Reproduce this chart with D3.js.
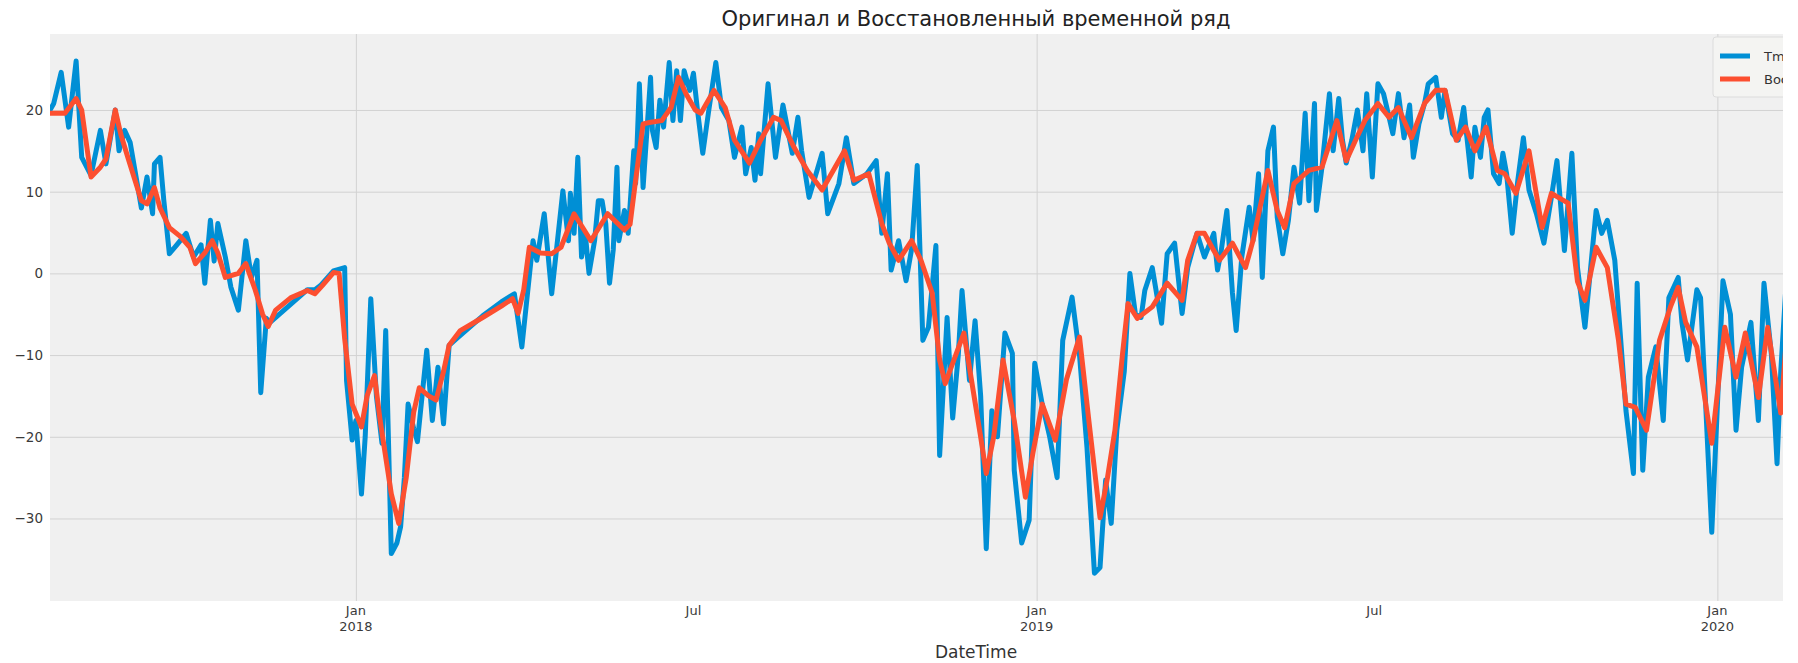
<!DOCTYPE html>
<html>
<head>
<meta charset="utf-8">
<script src="https://cdn.jsdelivr.net/npm/d3@7"></script>
<style>
  body { margin: 0; background: #ffffff; }
  svg { display: block; }
  text { font-family: "DejaVu Sans", "Noto Sans", sans-serif; }
</style>
</head>
<body>
<svg id="chart" width="1798" height="663"></svg>
<script>
// Day offsets are counted from 2018-01-01.

// Observed daily mean temperature (Tmean)
const tmeanDays = [
  -164, -162, -158, -154, -150, -147, -142, -137, -134, -129,
  -127, -124, -121, -115, -112, -109, -108, -105, -103, -100,
  -96, -91, -87, -83, -81, -78, -76, -74, -70, -67,
  -63, -59, -56, -53, -51, -48, -46, -35, -26, -22,
  -19, -12, -6, -5, -2, 0, 3, 5, 8, 11,
  14, 16, 19, 22, 24, 26, 28, 31, 33, 38,
  41, 44, 47, 50, 54, 68, 78, 85, 89, 95,
  97, 101, 105,
  111, 114, 115, 117, 119, 121, 123, 125, 128, 130,
  132, 134, 136, 138, 140, 141, 144, 146, 149, 150,
  152, 154, 158, 159, 161, 163, 165, 168, 170, 172,
  174, 176, 179, 181, 183, 186, 189, 193, 196, 200,
  203, 207, 209, 212, 214, 216, 217, 221, 225, 229,
  234, 237, 239, 243, 250, 253, 259, 263, 267, 274,
  279, 282, 285, 287, 291, 295, 298, 301, 304, 307,
  311,
  313, 317, 320, 323, 325, 329, 332, 335, 338, 341,
  344, 348, 352, 353, 357, 361, 364, 368, 372, 376,
  379, 382, 384, 388, 392, 396, 399, 402, 405, 408,
  412, 415, 418, 421, 423, 427, 432, 435, 439,
  443, 446, 451, 455, 460, 462, 464, 467, 470, 472,
  475, 479, 481, 484, 486, 489, 492, 494, 497, 500,
  503, 506, 509, 511, 514, 515, 518, 522, 524, 527,
  529, 531, 534, 537, 540, 542, 545, 548, 551, 554,
  556, 559, 562, 565, 567, 570, 573, 575, 579, 582,
  584, 588, 591, 594, 598, 600, 603, 605, 607, 610,
  613, 615, 617, 620, 623, 626, 629, 633, 637, 641,
  644, 648, 652, 655,
  659, 665, 668, 671, 675, 681, 685, 687, 690, 693,
  697, 701, 704, 709, 711, 714, 719, 721, 727, 733,
  737, 740, 743, 748, 752, 755, 759, 762, 764, 767,
  772, 776
];
const tmeanValues = [
  20.0, 20.8, 24.6, 17.9, 26.0, 14.2, 12.0, 17.5, 13.4, 20.0,
  15.0, 17.5, 16.0, 8.0, 11.8, 7.3, 13.4, 14.2, 9.0, 2.4,
  3.5, 4.9, 2.0, 3.5, -1.2, 6.5, 1.5, 6.1, 2.0, -1.7,
  -4.5, 4.0, -0.5, 1.6, -14.6, -5.5, -6.0, -3.8, -2.0, -2.0,
  -1.5, 0.3, 0.7, -13.1, -20.4, -18.0, -27.0, -20.0, -3.1, -15.0,
  -20.8, -7.0, -34.3, -33.0, -31.0, -25.0, -16.0, -19.0, -20.6, -9.4,
  -18.0, -11.5, -18.4, -8.8, -8.0, -5.2, -3.5, -2.5, -9.0, 4.0,
  1.6, 7.3, -2.5,
  10.1, 4.0, 9.8, 4.9, 14.2, 2.0, 4.9, 0.0, 4.0, 8.9,
  8.9, 6.1, -1.2, 2.9, 13.0, 4.0, 7.7, 4.9, 15.0, 11.0,
  23.2, 10.5, 24.0, 17.5, 15.4, 21.2, 17.9, 25.8, 18.7, 24.8,
  18.7, 24.8, 22.4, 24.5, 20.3, 14.7, 19.6, 25.8, 20.3, 18.7,
  14.2, 17.9, 12.2, 15.4, 11.4, 17.1, 12.2, 23.2, 14.2, 20.6,
  14.7, 19.1, 15.0, 9.3, 14.7, 7.3, 11.0, 16.6, 11.0, 12.2,
  13.8, 4.9, 12.2, 0.4, 4.0, -0.9, 3.0, 13.2, -8.2, -6.6,
  3.4,
  -22.3, -5.4, -17.7, -10.0, -2.1, -13.1, -5.8, -15.0, -33.7, -16.8,
  -20.0, -7.3, -9.8, -24.1, -33.0, -30.2, -11.0, -16.0, -20.0, -25.0,
  -8.2, -5.0, -2.9, -10.0, -21.3, -36.7, -36.0, -25.3, -30.6, -19.2,
  -12.0, 0.0, -5.0, -5.4, -2.1, 0.7, -6.1, 2.4, 3.7,
  -4.9, 0.7, 4.9, 2.0, 4.9, 0.4, 2.8, 7.7, -2.4, -7.0,
  2.0, 8.1, 4.0, 12.2, -0.5, 15.0, 17.9, 6.9, 2.4, 6.5,
  13.0, 8.6, 19.6, 8.9, 20.8, 7.7, 13.0, 22.0, 15.0, 21.4,
  16.3, 13.5, 16.3, 20.0, 15.0, 22.0, 11.8, 23.2, 22.0, 19.1,
  17.1, 22.0, 16.6, 20.6, 14.2, 18.3, 20.8, 23.2, 24.0, 19.1,
  22.4, 17.1, 16.3, 20.3, 11.8, 17.9, 14.2, 19.1, 20.0, 12.2,
  11.0, 14.7, 12.2, 4.9, 11.4, 16.6, 10.2, 7.3, 3.7, 9.3,
  13.8, 2.8, 14.7, 0.7,
  -6.6, 7.7, 4.9, 6.5, 1.6, -16.8, -24.5, -1.2, -24.1, -12.7,
  -9.0, -18.0, -3.0, -0.5, -6.0, -10.6, -2.0, -3.0, -31.7, -0.9,
  -5.0, -19.2, -11.5, -6.0, -18.0, -1.2, -10.0, -23.3, -12.0, -0.7,
  -3.0, -8.0
];

// Reconstructed series
const reconDays = [
  -164, -156, -150, -147, -142, -137, -134, -129, -126, -122,
  -115, -112, -108, -105, -100, -94, -89, -86, -81, -77,
  -74, -70, -63, -59, -54, -50, -47, -43, -35, -26,
  -22, -18, -12, -9, -6, -2, 3, 6, 10, 13,
  19, 23, 27, 31, 34, 39, 43, 47, 50, 56,
  68, 78, 84, 87, 90, 93, 99, 105, 110, 117,
  126, 135, 144, 147, 150, 154, 158, 164, 169, 173,
  177, 182, 185, 192, 198, 203, 211, 217, 224, 228,
  235, 242, 250, 262, 267, 275, 282, 286, 291, 298,
  303, 309, 313, 316, 320, 326, 335, 338, 342, 347,
  353, 359, 363, 368, 375, 381, 388, 393, 399, 403,
  407, 411, 414, 419, 427, 435, 443, 446, 451, 455,
  459, 463, 470, 477, 481, 489, 494, 498, 503, 511,
  518, 526, 531, 536, 541, 548, 554, 559, 566, 573,
  579, 584, 590, 595, 600, 606, 612, 616, 622, 629,
  636, 641, 650, 655, 659, 665, 671, 677, 681, 686,
  692, 699, 705, 709, 713, 719, 727, 734, 740, 745,
  752, 757, 764, 768, 772, 776
];
const reconValues = [
  19.6, 19.6, 21.4, 20.0, 11.8, 13.0, 14.0, 20.0, 17.0, 14.0,
  8.9, 8.5, 10.5, 8.0, 5.6, 4.5, 3.2, 1.2, 2.5, 4.0,
  2.5, -0.5, 0.0, 1.2, -2.0, -5.0, -6.5, -4.5, -3.0, -2.1,
  -2.5, -1.5, 0.1, 0.0, -8.0, -16.0, -18.8, -15.0, -12.5, -18.0,
  -27.0, -30.6, -25.0, -17.0, -14.0, -15.0, -15.5, -12.0, -8.8, -7.0,
  -5.4, -4.0, -3.1, -4.9, -2.0, 3.2, 2.5, 2.4, 3.2, 7.3,
  4.0, 7.3, 5.3, 6.0, 11.4, 18.3, 18.5, 18.7, 20.3, 24.0,
  22.0, 20.0, 19.6, 22.4, 20.3, 16.3, 13.5, 16.3, 19.1, 18.7,
  15.4, 12.6, 10.2, 15.0, 11.4, 12.2, 6.1, 3.7, 1.6, 4.0,
  1.6, -2.4, -10.6, -13.5, -11.0, -7.3, -20.0, -24.5, -20.0, -10.6,
  -18.0, -27.4, -22.0, -16.0, -20.4, -13.0, -7.8, -18.0, -29.9, -25.0,
  -19.2, -10.0, -3.7, -5.5, -4.1, -1.2, -3.3, 1.6, 4.9, 4.9,
  3.2, 1.6, 3.7, 0.7, 4.0, 12.6, 7.7, 5.6, 11.0, 12.6,
  13.0, 18.7, 13.8, 16.3, 18.7, 20.8, 19.1, 20.3, 16.6, 20.8,
  22.4, 22.4, 16.3, 17.9, 15.0, 17.9, 12.6, 12.2, 9.8, 15.0,
  5.6, 9.8, 8.6, -1.0, -3.3, 3.2, 0.7, -8.2, -16.0, -16.4,
  -19.2, -8.2, -4.0, -1.7, -6.0, -9.0, -20.8, -6.6, -12.7, -7.3,
  -15.2, -6.6, -17.1, -5.0, -6.0, -9.0
];

const seriesNames = ["Tmean", "Восстановленный"];
const seriesColors = ["#008fd5", "#fc4f30"];
const yTickValues = [-30, -20, -10, 0, 10, 20];
const xMajorTicks = ["2018-01-01", "2019-01-01", "2020-01-01"];
const xMinorTicks = ["2018-07-01", "2019-07-01"];
const titleText = "Оригинал и Восстановленный временной ряд";
const xAxisLabel = "DateTime";
const xDomain = ["2017-07-21", "2020-04-09"];
const yDomain = [-40.1, 29.3];

const svg = d3.select("#chart");
const H = 663;
const visibleRight = 1783;            // the saved figure ends here on the right
const plot = { left: 50, right: 1902, top: 34, bottom: 601 };

const parse = d3.utcParse("%Y-%m-%d");
const dayToDate = d => d3.utcDay.offset(new Date(Date.UTC(2018, 0, 1)), d);

const x = d3.scaleUtc().domain(xDomain.map(parse)).range([plot.left, plot.right]);
const y = d3.scaleLinear().domain(yDomain).range([plot.bottom, plot.top]);

const tmean = tmeanDays.map((d, i) => ({ date: dayToDate(d), value: tmeanValues[i] }));
const recon = reconDays.map((d, i) => ({ date: dayToDate(d), value: reconValues[i] }));

const defs = svg.append("defs");
defs.append("clipPath").attr("id", "figClip")
  .append("rect").attr("x", 0).attr("y", 0).attr("width", visibleRight).attr("height", H);
defs.append("clipPath").attr("id", "plotClip")
  .append("rect").attr("x", plot.left).attr("y", plot.top)
  .attr("width", plot.right - plot.left).attr("height", plot.bottom - plot.top);

const fig = svg.append("g").attr("clip-path", "url(#figClip)");

// axes background
fig.append("rect")
  .attr("x", plot.left).attr("y", plot.top)
  .attr("width", plot.right - plot.left).attr("height", plot.bottom - plot.top)
  .attr("fill", "#f0f0f0");

// horizontal grid + y tick labels
const yAxis = d3.axisLeft(y).tickValues(yTickValues)
  .tickSize(-(plot.right - plot.left)).tickPadding(7)
  .tickFormat(v => (v < 0 ? "\u2212" + Math.abs(v) : String(v)));
const gy = fig.append("g").attr("transform", `translate(${plot.left},0)`).call(yAxis);
gy.select(".domain").remove();
gy.selectAll(".tick line").attr("stroke", "#d2d2d2").attr("stroke-width", 1);
gy.selectAll(".tick text").attr("fill", "#3a3a3a").attr("font-size", 13.5)
  .attr("font-family", "\"DejaVu Sans\", sans-serif");

// vertical grid at the yearly major ticks
const majorDates = xMajorTicks.map(parse);
const xAxisMajor = d3.axisBottom(x).tickValues(majorDates)
  .tickSize(-(plot.bottom - plot.top)).tickFormat(() => "");
const gx = fig.append("g").attr("transform", `translate(0,${plot.bottom})`).call(xAxisMajor);
gx.select(".domain").remove();
gx.selectAll(".tick line").attr("stroke", "#d2d2d2").attr("stroke-width", 1);

// x tick labels: month, plus the year on the major ticks
const xLabels = fig.append("g").attr("fill", "#3a3a3a").attr("font-size", 13).attr("text-anchor", "middle");
majorDates.forEach(d => {
  const t = xLabels.append("text").attr("x", x(d)).attr("y", plot.bottom + 14);
  t.append("tspan").attr("x", x(d)).attr("dy", 0).text(d3.utcFormat("%b")(d));
  t.append("tspan").attr("x", x(d)).attr("dy", 16).text(d3.utcFormat("%Y")(d));
});
xMinorTicks.map(parse).forEach(d => {
  xLabels.append("text").attr("x", x(d)).attr("y", plot.bottom + 14).text(d3.utcFormat("%b")(d));
});

// series
const line = d3.line().x(d => x(d.date)).y(d => y(d.value));
const lines = fig.append("g").attr("clip-path", "url(#plotClip)");
[tmean, recon].forEach((s, i) => {
  lines.append("path").datum(s)
    .attr("d", line)
    .attr("fill", "none")
    .attr("stroke", seriesColors[i])
    .attr("stroke-width", 5)
    .attr("stroke-linejoin", "round")
    .attr("stroke-linecap", "square");
});

// legend (upper right)
const lg = fig.append("g").attr("transform", "translate(1713,37)");
lg.append("rect").attr("width", 178).attr("height", 60).attr("rx", 3)
  .attr("fill", "#f4f4f2").attr("stroke", "#dcdcdc").attr("stroke-width", 1);
seriesNames.forEach((name, i) => {
  const yy = 19 + i * 23;
  lg.append("line").attr("x1", 7).attr("x2", 37).attr("y1", yy).attr("y2", yy)
    .attr("stroke", seriesColors[i]).attr("stroke-width", 5);
  lg.append("text").attr("x", 51).attr("y", yy).attr("dy", "0.35em")
    .attr("font-size", 13).attr("fill", "#333").text(name);
});

// title and axis label, centred on the axes
const cx = (plot.left + plot.right) / 2;
fig.append("text").attr("x", cx).attr("y", 26).attr("text-anchor", "middle")
  .attr("font-size", 21).attr("fill", "#222").text(titleText);
fig.append("text").attr("x", cx).attr("y", 658).attr("text-anchor", "middle")
  .attr("font-size", 17).attr("fill", "#333").text(xAxisLabel);
</script>
</body>
</html>
